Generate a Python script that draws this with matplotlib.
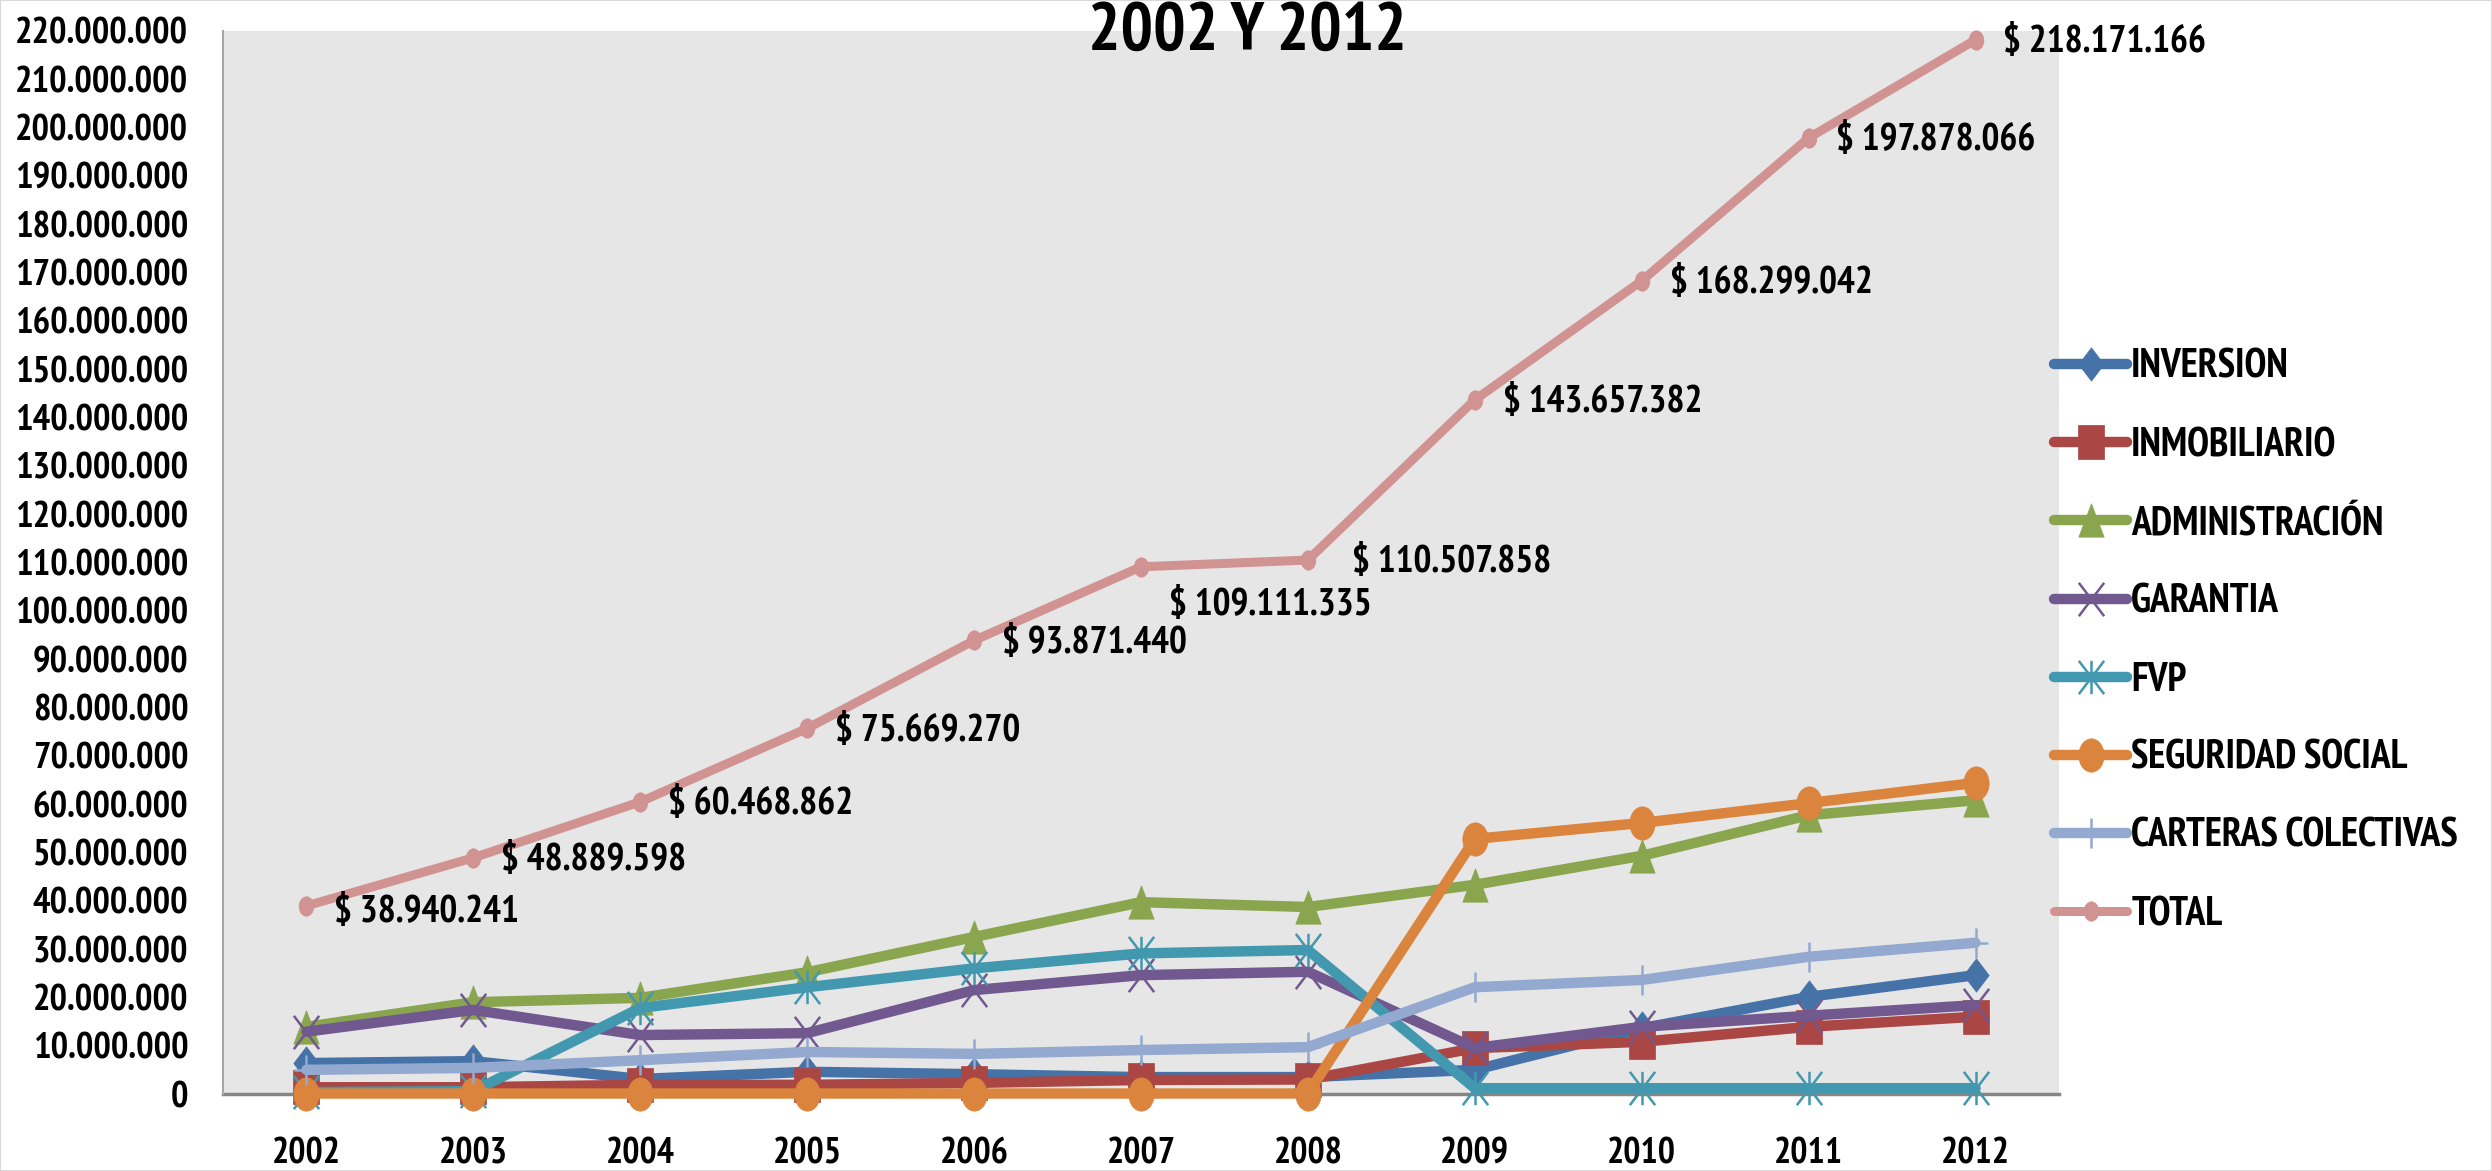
import matplotlib
matplotlib.use("Agg")
import matplotlib.pyplot as plt
from matplotlib import font_manager
from matplotlib.path import Path
from matplotlib.patches import Rectangle
from matplotlib.ticker import FuncFormatter, MultipleLocator
import numpy as np

years = [2002, 2003, 2004, 2005, 2006, 2007, 2008, 2009, 2010, 2011, 2012]

inversion = [6.4e6, 6.8e6, 3.1e6, 4.6e6, 4.1e6, 3.5e6, 3.5e6, 5.0e6, 13.6e6, 20.1e6, 24.6e6]
inmobiliario = [1.4e6, 1.4e6, 1.9e6, 1.9e6, 2.3e6, 2.9e6, 3.0e6, 9.5e6, 10.8e6, 13.9e6, 16.0e6]
administracion = [13.9e6, 19.0e6, 19.9e6, 25.2e6, 32.5e6, 39.7e6, 38.7e6, 43.3e6, 49.3e6, 57.7e6, 60.8e6]
garantia = [12.9e6, 17.4e6, 12.2e6, 12.6e6, 21.5e6, 24.6e6, 25.3e6, 9.5e6, 13.9e6, 16.2e6, 18.4e6]
fvp = [0.4e6, 0.6e6, 17.8e6, 22.1e6, 26.0e6, 29.1e6, 29.8e6, 1.2e6, 1.2e6, 1.2e6, 1.2e6]
seguridad_social = [0.1e6, 0.1e6, 0.1e6, 0.1e6, 0.1e6, 0.1e6, 0.1e6, 52.8e6, 56.1e6, 60.2e6, 64.4e6]
carteras = [5.0e6, 5.4e6, 7.0e6, 8.7e6, 8.3e6, 9.1e6, 9.7e6, 22.1e6, 23.6e6, 28.4e6, 31.3e6]
total = [38940241, 48889598, 60468862, 75669270, 93871440, 109111335,
         110507858, 143657382, 168299042, 197878066, 218171166]

series_names = ["INVERSION", "INMOBILIARIO", "ADMINISTRACIÓN", "GARANTIA", "FVP",
                "SEGURIDAD SOCIAL", "CARTERAS COLECTIVAS", "TOTAL"]
title_text = "2002 Y 2012"


def pick_font(*names):
    for name in names:
        try:
            font_manager.findfont(name, fallback_to_default=False)
            return name
        except ValueError:
            pass
    return "DejaVu Sans"


FONT = pick_font("PT Sans Narrow", "Open Sans Condensed", "Roboto Condensed", "Liberation Sans")
plt.rcParams["font.family"] = [FONT, "DejaVu Sans"]
plt.rcParams["font.weight"] = "bold"

# markers are drawn a little narrower than tall
SQUEEZE = 0.76


def squeezed(verts, codes=None):
    v = np.asarray(verts, dtype=float) * [SQUEEZE, 1.0]
    return Path(v, codes)


circle = Path.unit_circle()
m_circle = squeezed(circle.vertices, circle.codes)
m_diamond = squeezed([(0, 1), (1, 0), (0, -1), (-1, 0), (0, 1)],
                     [Path.MOVETO, Path.LINETO, Path.LINETO, Path.LINETO, Path.CLOSEPOLY])
m_square = squeezed([(-1, -1), (1, -1), (1, 1), (-1, 1), (-1, -1)],
                    [Path.MOVETO, Path.LINETO, Path.LINETO, Path.LINETO, Path.CLOSEPOLY])
m_triangle = squeezed([(0, 1), (1, -1), (-1, -1), (0, 1)],
                      [Path.MOVETO, Path.LINETO, Path.LINETO, Path.CLOSEPOLY])
m_cross = squeezed([(-1, -1), (1, 1), (-1, 1), (1, -1)],
                   [Path.MOVETO, Path.LINETO, Path.MOVETO, Path.LINETO])
m_star = squeezed([(-1, -1), (1, 1), (-1, 1), (1, -1), (0, -1), (0, 1)],
                  [Path.MOVETO, Path.LINETO, Path.MOVETO, Path.LINETO, Path.MOVETO, Path.LINETO])
m_plus = squeezed([(0, -1), (0, 1), (-1, 0), (1, 0)],
                  [Path.MOVETO, Path.LINETO, Path.MOVETO, Path.LINETO])

styles = [
    dict(color="#4572A7", marker=m_diamond, ms=24, filled=True, lw=7.5),
    dict(color="#AA4643", marker=m_square, ms=24, filled=True, lw=7.5),
    dict(color="#89A54E", marker=m_triangle, ms=24, filled=True, lw=7.5),
    dict(color="#71588F", marker=m_cross, ms=24, filled=False, lw=7.5),
    dict(color="#4198AF", marker=m_star, ms=24, filled=False, lw=7.5),
    dict(color="#DB843D", marker=m_circle, ms=24, filled=True, lw=7.5),
    dict(color="#93A9CF", marker=m_plus, ms=22, filled=False, lw=7.5),
    dict(color="#D19392", marker=m_circle, ms=14, filled=True, lw=6.5),
]
values = [inversion, inmobiliario, administracion, garantia, fvp,
          seguridad_social, carteras, total]

fig = plt.figure(figsize=(24.92, 11.71), dpi=100)
ax = fig.add_axes([223 / 2492, 1 - 1094 / 1171, (2059 - 223) / 2492, (1094 - 31) / 1171])
ax.set_facecolor("#E6E6E6")

x = np.arange(len(years))
for name, vals, st in zip(series_names, values, styles):
    ax.plot(x, vals, color=st["color"], lw=st["lw"], solid_capstyle="round",
            solid_joinstyle="round", marker=st["marker"], markersize=st["ms"],
            markerfacecolor=st["color"] if st["filled"] else "none",
            markeredgecolor=st["color"], markeredgewidth=1.8 if not st["filled"] else 0.5,
            label=name, clip_on=False)

# value labels on the TOTAL line
label_nudge = {2002: (0, -3), 2007: (0, -26), 2008: (12, 0)}
for xi, yr, v in zip(x, years, total):
    dx, dy = label_nudge.get(yr, (0, 0))
    txt = "$ " + f"{v:,.0f}".replace(",", ".")
    ax.annotate(txt, (xi, v), xytext=(20 + dx, -2 + dy), textcoords="offset points",
                ha="left", va="center", fontsize=27, fontweight="bold",
                annotation_clip=False)

ax.set_xlim(-0.5, len(years) - 0.5)
ax.set_ylim(0, 220e6)
ax.yaxis.set_major_locator(MultipleLocator(10e6))
ax.yaxis.set_major_formatter(FuncFormatter(lambda v, p: f"{v:,.0f}".replace(",", ".")))
ax.set_xticks(x)
ax.set_xticklabels([str(y) for y in years])
ax.tick_params(axis="y", length=0, pad=25, labelsize=26.5)
ax.tick_params(axis="x", length=0, pad=31, labelsize=26)
for lab in ax.get_xticklabels() + ax.get_yticklabels():
    lab.set_fontweight("bold")

for side in ("top", "right"):
    ax.spines[side].set_visible(False)
ax.spines["left"].set_color("#A6A6A6")
ax.spines["left"].set_linewidth(1.5)
ax.spines["bottom"].set_color("#868686")
ax.spines["bottom"].set_linewidth(2.5)
ax.spines["bottom"].set_zorder(0.5)

fig.text(1247 / 2492, 1 - 50 / 1171, title_text, ha="center", va="baseline",
         fontsize=49, fontweight="bold")

leg = fig.legend(loc="upper left", bbox_to_anchor=(2054 / 2492, 1 - 349 / 1171),
                 frameon=False, fontsize=28.5, handlelength=1.85, handletextpad=0.1,
                 labelspacing=1.04, borderpad=0, borderaxespad=0)
for t in leg.get_texts():
    t.set_fontweight("bold")

fig.patches.append(Rectangle((0, 0), 1, 1, transform=fig.transFigure, fill=False,
                             edgecolor="#D9D9D9", lw=1.5))

fig.savefig("out.png", dpi=100)
